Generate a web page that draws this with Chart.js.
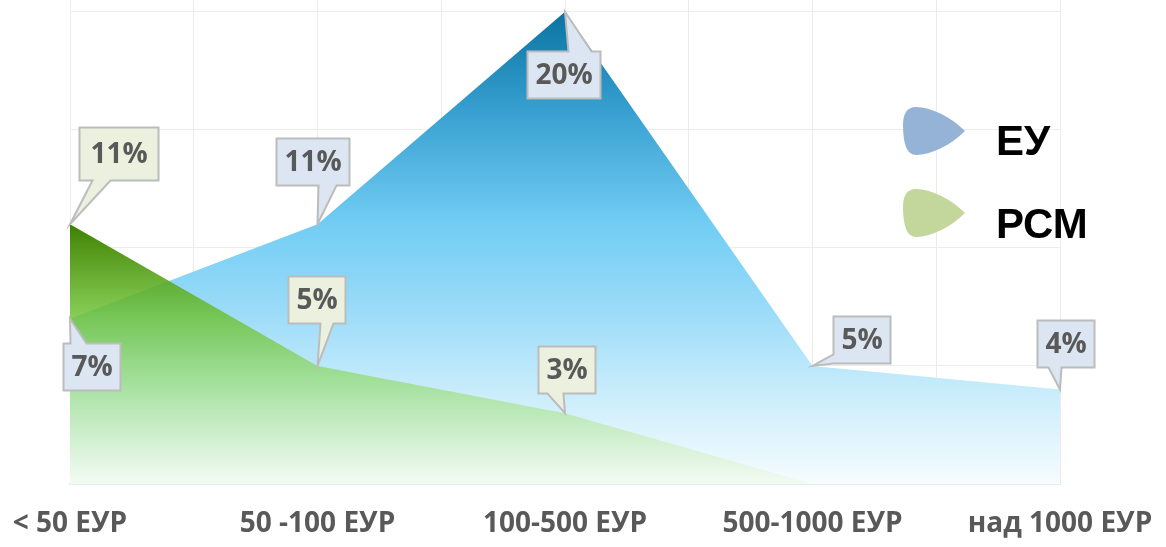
<!DOCTYPE html>
<html>
<head>
<meta charset="utf-8">
<script src="https://cdn.jsdelivr.net/npm/chart.js@4/dist/chart.umd.min.js"></script>
<style>
  html, body { margin: 0; padding: 0; background: #fff; }
  #wrap { width: 1166px; height: 547px; }
</style>
</head>
<body>
<div id="wrap"><canvas id="chart"></canvas></div>
<script>
const categories = ["< 50 ЕУР", "50 -100 ЕУР", "100-500 ЕУР", "500-1000 ЕУР", "над 1000 ЕУР"];
const euValues = [7, 11, 20, 5, 4];
const rsmValues = [11, 5, 3, 0, 0];
const seriesNames = ["ЕУ", "РСМ"];
const yTicks = [0, 5, 10, 15, 20];

// callout placement: box centre offset from the point, tail side, tail base (px from box edge start)
const euCallouts = [
    { dx: 21, dy: 48, side: "top", b0: 7, b1: 23 },
    { dx: -5, dy: -63, side: "bottom", b0: 42, b1: 60 },
    { dx: -2, dy: 63, side: "top", b0: 41, b1: 64 },
    { dx: 49, dy: -26, side: "left", b0: 38, b1: 47 },
    { dx: 5, dy: -46, side: "bottom", b0: 11, b1: 24 },
];
const rsmCallouts = [
    { dx: 48, dy: -71, side: "bottom", b0: 13, b1: 31, h: 53, pad: 22 },
    { dx: -1, dy: -66, side: "bottom", b0: 32, b1: 45 },
    { dx: 1, dy: -44, side: "bottom", b0: 9, b1: 25 },
    null,
    null,
];

const toPoints = (vals) => vals.map((v, i) => ({ x: i, y: v }));

function blueFill(context) {
    const area = context.chart.chartArea;
    if (!area) return "rgba(120,200,240,0.6)";
    const y = context.chart.scales.y;
    const g = context.chart.ctx.createLinearGradient(0, y.getPixelForValue(20), 0, y.getPixelForValue(0));
    g.addColorStop(0, "#0a73a2");
    g.addColorStop(0.22, "#3aa2d2");
    g.addColorStop(0.45, "#72cdf4");
    g.addColorStop(0.62, "#98daf8");
    g.addColorStop(0.82, "#cdeefc");
    g.addColorStop(1, "#f6fcfe");
    return g;
}

function greenFill(context) {
    const area = context.chart.chartArea;
    if (!area) return "rgba(120,200,80,0.6)";
    const y = context.chart.scales.y;
    const g = context.chart.ctx.createLinearGradient(0, y.getPixelForValue(11), 0, y.getPixelForValue(0));
    g.addColorStop(0, "rgba(62,128,0,1)");
    g.addColorStop(0.35, "rgba(108,192,48,0.82)");
    g.addColorStop(0.6, "rgba(150,220,120,0.75)");
    g.addColorStop(1, "rgba(240,250,236,0.6)");
    return g;
}

function drawCallout(ctx, px, py, text, c, fill) {
    ctx.font = "bold 28px 'Open Sans'";
    const w = Math.round(ctx.measureText(text).width + (c.pad || 16));
    const h = c.h || 47;
    const left = Math.round(px + c.dx - w / 2) + 0.5;
    const top = Math.round(py + c.dy - h / 2) + 0.5;
    const right = left + w, bottom = top + h;
    ctx.beginPath();
    ctx.moveTo(left, top);
    if (c.side === "top") {
        ctx.lineTo(left + c.b0, top);
        ctx.lineTo(px, py);
        ctx.lineTo(left + c.b1, top);
    }
    ctx.lineTo(right, top);
    ctx.lineTo(right, bottom);
    if (c.side === "bottom") {
        ctx.lineTo(left + c.b1, bottom);
        ctx.lineTo(px, py);
        ctx.lineTo(left + c.b0, bottom);
    }
    ctx.lineTo(left, bottom);
    if (c.side === "left") {
        ctx.lineTo(left, top + c.b1);
        ctx.lineTo(px, py);
        ctx.lineTo(left, top + c.b0);
    }
    ctx.closePath();
    ctx.fillStyle = fill;
    ctx.fill();
    ctx.strokeStyle = "#bcbcbc";
    ctx.lineWidth = 2;
    ctx.stroke();
    ctx.fillStyle = "#595959";
    ctx.textAlign = "center";
    ctx.textBaseline = "middle";
    ctx.fillText(text, left + w / 2, top + h / 2 + 1);
}

const calloutPlugin = {
    id: "callouts",
    afterDatasetsDraw(chart) {
        const ctx = chart.ctx;
        ctx.save();
        const sets = [
            { meta: chart.getDatasetMeta(1), vals: euValues, cfg: euCallouts, fill: "#dce6f2" },
            { meta: chart.getDatasetMeta(0), vals: rsmValues, cfg: rsmCallouts, fill: "#ebf1de" },
        ];
        sets.forEach((s) => {
            s.meta.data.forEach((pt, i) => {
                const c = s.cfg[i];
                if (!c) return;
                drawCallout(ctx, pt.x, pt.y, s.vals[i] + "%", c, s.fill);
            });
        });
        ctx.restore();
    },
};

function drop(ctx, x, cy, color) {
    ctx.beginPath();
    ctx.moveTo(x + 62, cy);
    ctx.bezierCurveTo(x + 48, cy - 14, x + 28, cy - 24, x + 13, cy - 24);
    ctx.quadraticCurveTo(x, cy - 24, x, cy - 6);
    ctx.quadraticCurveTo(x, cy + 24, x + 13, cy + 24);
    ctx.bezierCurveTo(x + 28, cy + 24, x + 48, cy + 14, x + 62, cy);
    ctx.closePath();
    ctx.fillStyle = color;
    ctx.fill();
}

const legendPlugin = {
    id: "dropLegend",
    afterDraw(chart) {
        const ctx = chart.ctx;
        ctx.save();
        drop(ctx, 903, 131, "#95b3d7");
        drop(ctx, 903, 213, "#c3d69b");
        ctx.fillStyle = "#000";
        ctx.font = "bold 42px 'Liberation Sans'";
        ctx.textAlign = "left";
        ctx.textBaseline = "alphabetic";
        ctx.fillText(seriesNames[0], 996, 155);
        ctx.fillText(seriesNames[1], 996, 238);
        ctx.restore();
    },
};

new Chart(document.getElementById("chart"), {
    type: "line",
    data: {
        datasets: [
            {
                label: seriesNames[1],
                data: toPoints(rsmValues),
                fill: "origin",
                backgroundColor: greenFill,
                borderWidth: 0,
                pointRadius: 0,
                tension: 0,
            },
            {
                label: seriesNames[0],
                data: toPoints(euValues),
                fill: "origin",
                backgroundColor: blueFill,
                borderWidth: 0,
                pointRadius: 0,
                tension: 0,
            },
        ],
    },
    options: {
        responsive: true,
        maintainAspectRatio: false,
        animation: false,
        layout: {
            padding: { left: 70, right: 106, top: 0, bottom: 0 },
        },
        plugins: {
            legend: { display: false },
            tooltip: { enabled: false },
        },
        scales: {
            x: {
                type: "linear",
                min: 0,
                max: categories.length - 1,
                afterFit: (axis) => {
                    axis.height = 63;
                    axis.paddingLeft = 0;
                    axis.paddingRight = 0;
                },
                ticks: {
                    stepSize: 0.5,
                    autoSkip: false,
                    maxRotation: 0,
                    padding: 23,
                    color: "#595959",
                    font: { family: "'Open Sans'", size: 28, weight: "bold" },
                    callback: (v) => (Number.isInteger(v) ? categories[v] : ""),
                },
                grid: { color: "#ececec", drawTicks: false },
                border: { display: true, color: "#e2eef0", width: 2 },
            },
            y: {
                min: 0,
                max: 20.5,
                afterFit: (axis) => { axis.width = 0; },
                afterBuildTicks: (axis) => {
                    axis.ticks = yTicks.map((v) => ({ value: v }));
                },
                ticks: { display: false },
                grid: { color: "#ececec", drawTicks: false },
                border: { display: false },
            },
        },
    },
    plugins: [calloutPlugin, legendPlugin],
});
</script>
</body>
</html>
